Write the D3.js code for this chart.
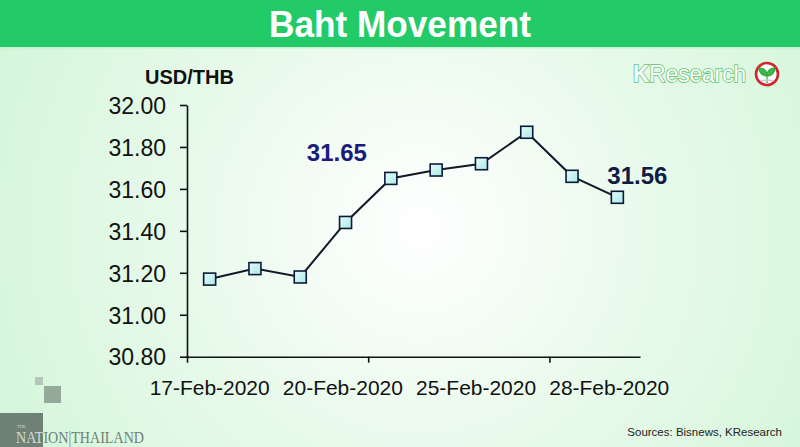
<!DOCTYPE html>
<html><head><meta charset="utf-8">
<script src="https://cdn.jsdelivr.net/npm/d3@7"></script>
<style>html,body{margin:0;padding:0;background:#fff;}svg{display:block;}</style>
</head><body>
<script>
const categories = ["17-Feb-2020","18-Feb-2020","19-Feb-2020","20-Feb-2020","21-Feb-2020","24-Feb-2020","25-Feb-2020","26-Feb-2020","27-Feb-2020","28-Feb-2020"];
const values = [31.17, 31.22, 31.18, 31.44, 31.65, 31.69, 31.72, 31.87, 31.66, 31.56];
const yTicks = [30.80, 31.00, 31.20, 31.40, 31.60, 31.80, 32.00];
const xLabels = ["17-Feb-2020","20-Feb-2020","25-Feb-2020","28-Feb-2020"];
const annotations = [{cat:"21-Feb-2020", text:"31.65"}, {cat:"28-Feb-2020", text:"31.56"}];
const title = "Baht Movement";
const unitLabel = "USD/THB";
const source = "Sources: Bisnews, KResearch";

const W = 800, H = 447;
const svg = d3.select("body").append("svg").attr("width", W).attr("height", H);
const defs = svg.append("defs");
const rg = defs.append("radialGradient").attr("id","bg").attr("gradientUnits","userSpaceOnUse")
  .attr("cx",420).attr("cy",230).attr("r",470);
rg.append("stop").attr("offset","0%").attr("stop-color","#ffffff");
rg.append("stop").attr("offset","45%").attr("stop-color","#eafaec");
rg.append("stop").attr("offset","100%").attr("stop-color","#d3f6da");
const mg = defs.append("linearGradient").attr("id","mk").attr("x1",0).attr("y1",0).attr("x2",1).attr("y2",1);
mg.append("stop").attr("offset","0%").attr("stop-color","#e6fbfb");
mg.append("stop").attr("offset","100%").attr("stop-color","#a9e9e6");

svg.append("rect").attr("width",W).attr("height",H).attr("fill","url(#bg)");
// banner
svg.append("rect").attr("x",0).attr("y",0).attr("width",W).attr("height",47).attr("fill","#22cb68");
svg.append("rect").attr("x",0).attr("y",47).attr("width",W).attr("height",1.5).attr("fill","#c4f2cf");
svg.append("text").attr("x",W/2).attr("y",37).attr("text-anchor","middle")
  .attr("font-family","Liberation Sans, Arial, sans-serif").attr("font-weight","bold")
  .attr("font-size",37).attr("fill","#ffffff")
  .attr("textLength",262).attr("lengthAdjust","spacingAndGlyphs").text(title);

// scales
const x = d3.scaleBand().domain(categories).range([187, 640]).padding(0);
const xi = d3.scaleLinear().domain([0, categories.length]).range([187, 640]);
const y = d3.scaleLinear().domain([30.8, 32.0]).range([356.7, 105]);
const cx = c => x(c) + x.bandwidth()/2;

const font = "Liberation Sans, Arial, sans-serif";

// y axis
const yAx = svg.append("g").attr("transform","translate(187,0)")
  .call(d3.axisLeft(y).tickValues(yTicks).tickFormat(d3.format(".2f")).tickSize(7).tickPadding(14).tickSizeOuter(0));
yAx.select(".domain").attr("stroke","#111").attr("stroke-width",1.6);
yAx.selectAll(".tick line").attr("stroke","#111").attr("stroke-width",1.6);
yAx.selectAll(".tick text").attr("font-family",font).attr("font-size",23).attr("fill","#111").attr("dy","0.36em");

// x axis ticks (category boundaries every 4)
const xAx = svg.append("g").attr("transform",`translate(0,${y(30.8)})`)
  .call(d3.axisBottom(xi).tickValues([0,4,8]).tickFormat("").tickSize(6).tickSizeOuter(0));
xAx.select(".domain").attr("stroke","#111").attr("stroke-width",1.6);
xAx.selectAll(".tick line").attr("stroke","#111").attr("stroke-width",1.6);
xAx.selectAll(".tick").filter(d => d === 0).select("line").attr("y1",-1).attr("y2",6);

// x labels
const xLab = svg.append("g").attr("transform",`translate(0,${y(30.8)})`)
  .call(d3.axisBottom(x).tickValues(xLabels).tickSize(0).tickPadding(23));
xLab.select(".domain").remove();
xLab.selectAll(".tick text").attr("font-family",font).attr("font-size",21).attr("fill","#111")
  .attr("x",(d,i)=>-i*2.7)
  .attr("textLength",120).attr("lengthAdjust","spacingAndGlyphs");

// unit label
svg.append("text").attr("x",145).attr("y",84).attr("font-family",font).attr("font-weight","bold")
  .attr("font-size",20).attr("fill","#111").text(unitLabel);

// line
const line = d3.line().x((d,i)=>cx(categories[i])).y(d=>y(d));
svg.append("path").datum(values).attr("d",line).attr("fill","none").attr("stroke","#111828").attr("stroke-width",2);
const ms = 12;
svg.selectAll("rect.mk").data(values).enter().append("rect").attr("class","mk")
  .attr("x",(d,i)=>cx(categories[i])-ms/2).attr("y",d=>y(d)-ms/2)
  .attr("width",ms).attr("height",ms).attr("fill","url(#mk)").attr("stroke","#0c1a3a").attr("stroke-width",1.6);

// annotations
const annStyle = [{dx:-54, dy:-17, fill:"#1b1b7c"}, {dx:20, dy:-13, fill:"#0f1c44"}];
annotations.forEach((a,k)=>{
  const v = values[categories.indexOf(a.cat)];
  svg.append("text").attr("x",cx(a.cat)+annStyle[k].dx).attr("y",y(v)+annStyle[k].dy)
    .attr("text-anchor","middle").attr("font-family",font).attr("font-weight","bold")
    .attr("font-size",24).attr("fill",annStyle[k].fill).text(a.text);
});

// KResearch logo
const kg = svg.append("g");
const kt = kg.append("text").attr("x",633).attr("y",82).attr("font-family",font).attr("font-size",24)
  .attr("fill","#ffffff").attr("stroke","#5fc26e").attr("stroke-width",1.6).attr("paint-order","stroke")
  .attr("textLength",113).attr("lengthAdjust","spacingAndGlyphs");
kt.append("tspan").attr("font-weight","bold").text("K");
kt.append("tspan").text("Research");
kg.append("circle").attr("cx",767).attr("cy",74).attr("r",11).attr("fill","#ffffff").attr("stroke","#d3262a").attr("stroke-width",2.6);
kg.append("path").attr("d","M767,83 L767,74 M767,76 C762,76 759,72 759,68 C764,68 767,71 767,76 M767,76 C772,76 775,72 775,68 C770,68 767,71 767,76")
  .attr("fill","#3dbb4a").attr("stroke","#2ea83c").attr("stroke-width",1.2);
kg.append("path").attr("d","M761,81 Q767,79 773,81").attr("fill","none").attr("stroke","#c9c9c9").attr("stroke-width",1.5);

// Nation Thailand logo
svg.append("rect").attr("x",35).attr("y",377).attr("width",8).attr("height",8).attr("fill","#b7c6ba");
svg.append("rect").attr("x",44).attr("y",386).attr("width",17).attr("height",17).attr("fill","#95a89a");
svg.append("rect").attr("x",0).attr("y",413).attr("width",43).attr("height",34).attr("fill","#6f8174");
defs.append("clipPath").attr("id","sq").append("rect").attr("x",0).attr("y",413).attr("width",43).attr("height",34);
const nt = (g, col) => g.append("text").attr("x",16).attr("y",443).attr("font-family","Liberation Serif, Times New Roman, serif")
  .attr("font-size",17).attr("fill",col).attr("textLength",128).attr("lengthAdjust","spacingAndGlyphs").text("NATION|THAILAND");
nt(svg, "#6f8174");
nt(svg.append("g").attr("clip-path","url(#sq)"), "#d3dbd5");
svg.append("text").attr("x",17).attr("y",428).attr("font-family","Liberation Serif, serif").attr("font-size",4.5).attr("fill","#d3dbd5").text("THE");

// source
svg.append("text").attr("x",782).attr("y",436).attr("text-anchor","end").attr("font-family",font)
  .attr("font-size",11.5).attr("fill","#222").text(source);
</script>
</body></html>
